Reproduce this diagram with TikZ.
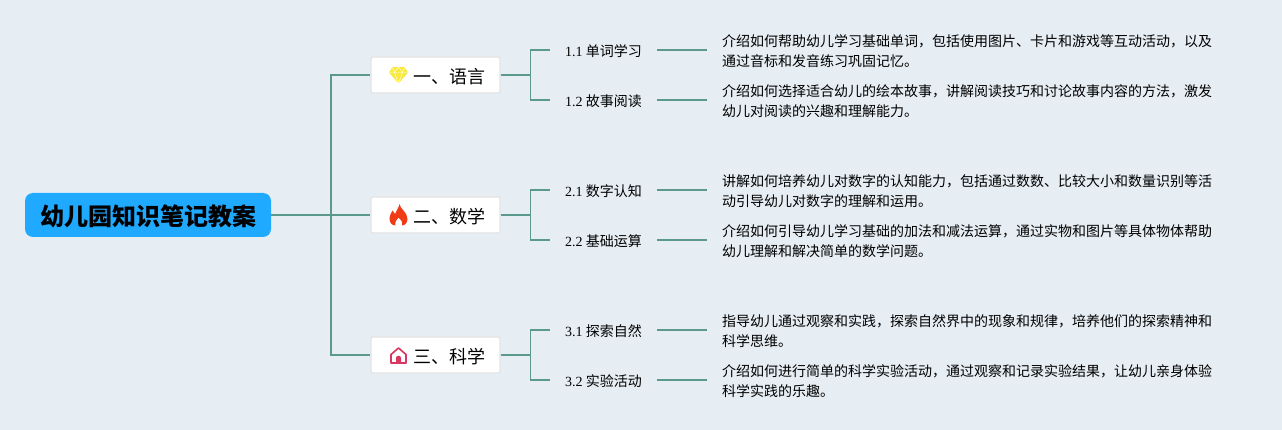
\documentclass[tikz,border=0pt]{standalone}
\usepackage{fontspec}
\setmainfont{Liberation Serif}
\newfontfamily\cjk{Noto Sans CJK SC}
\definecolor{bgcol}{HTML}{E6EDF3}
\definecolor{linkcol}{HTML}{5B9A8B}
\definecolor{rootcol}{HTML}{1FA9FF}
\definecolor{gemcol}{HTML}{F8E93C}
\definecolor{firecol}{HTML}{EF3B16}
\definecolor{homecol}{HTML}{DB3560}
\tikzset{
  link/.style={draw=linkcol, line width=1.6pt},
  rootbox/.style={fill=rootcol, rounded corners=8pt, minimum width=246pt, minimum height=44pt,
    inner sep=0pt, font=\cjk\bfseries\fontsize{24}{28}\selectfont},
  topicbox/.style={fill=white, draw=black!11, line width=1.2pt, rounded corners=2pt, minimum width=129pt,
    minimum height=36pt, inner sep=0pt, font=\cjk\fontsize{18}{22}\selectfont},
  subtopic/.style={anchor=west, inner sep=0pt, font=\fontsize{14}{20}\selectfont},
  note/.style={anchor=west, inner sep=0pt, align=left, font=\cjk\fontsize{14}{20}\selectfont},
}
\begin{document}
\begin{tikzpicture}[x=1pt, y=-1pt]
  \useasboundingbox (0,0) rectangle (1282,430);
  \fill[bgcol] (0,0) rectangle (1282,430);
  % centre
  \node[rootbox] (root) at (148,215) {\raisebox{-10.6pt}[0pt][0pt]{幼儿园知识笔记教案}};
  \coordinate (trunk) at (331,215);
  % topics
  \node[topicbox] (lang) at (435.5,75) {\hspace*{27pt}\raisebox{-8.3pt}[0pt][0pt]{一、语言}};
  \node[topicbox] (math) at (435.5,215) {\hspace*{27pt}\raisebox{-8.3pt}[0pt][0pt]{二、数学}};
  \node[topicbox] (sci) at (435.5,355) {\hspace*{27pt}\raisebox{-8.3pt}[0pt][0pt]{三、科学}};
  \draw[link] (root) -- (trunk);
  \draw[link] (trunk) |- (lang);
  \draw[link] (trunk) -- (math);
  \draw[link] (trunk) |- (sci);
  % icons
  \fill[gemcol] (392.5,67) -- (404.5,67) -- (408,72.5) -- (398.5,83.5) -- (389,72.5) -- cycle;
  \draw[white, line width=.4pt] (389,72.5) -- (408,72.5) (392.5,67) -- (394.5,72.5) -- (398.5,83.5) -- (402.5,72.5) -- (404.5,67) (394.5,72.5) -- (398.5,67) -- (402.5,72.5);
  \fill[firecol] (399.5,204) .. controls (400,209) and (407.5,212) .. (407.5,219)
    .. controls (407.5,223) and (404.5,225.5) .. (402,225.5) .. controls (403,222) and (401,219.5) .. (398.5,217.5)
    .. controls (396.5,219.5) and (394.5,222) .. (395.5,225.5) .. controls (392,225.5) and (389.5,222.5) .. (389.5,219)
    .. controls (389.5,215) and (391.5,213) .. (392.5,210.5) .. controls (393.5,212) and (394,213) .. (395,214)
    .. controls (396.5,211) and (398.5,208) .. (399.5,204) -- cycle;
  \draw[homecol, line width=1.6pt, line join=round] (391,363) -- (391,354.5) -- (398.5,348) -- (406,354.5) -- (406,363) -- cycle;
  \fill[homecol] (396,363) -- (396,358) .. controls (396,355) and (401,355) .. (401,358) -- (401,363) -- cycle;
  % sub topics and notes
  \foreach \idx/\top/\y/\sub/\txt in {
    a/lang/50/{{\rmfamily 1.1} 单词学习}/{介绍如何帮助幼儿学习基础单词，包括使用图片、卡片和游戏等互动活动，以及\\通过音标和发音练习巩固记忆。},
    b/lang/100/{{\rmfamily 1.2} 故事阅读}/{介绍如何选择适合幼儿的绘本故事，讲解阅读技巧和讨论故事内容的方法，激发\\幼儿对阅读的兴趣和理解能力。},
    c/math/190/{{\rmfamily 2.1} 数字认知}/{讲解如何培养幼儿对数字的认知能力，包括通过数数、比较大小和数量识别等活\\动引导幼儿对数字的理解和运用。},
    d/math/240/{{\rmfamily 2.2} 基础运算}/{介绍如何引导幼儿学习基础的加法和减法运算，通过实物和图片等具体物体帮助\\幼儿理解和解决简单的数学问题。},
    e/sci/330/{{\rmfamily 3.1} 探索自然}/{指导幼儿通过观察和实践，探索自然界中的现象和规律，培养他们的探索精神和\\科学思维。},
    f/sci/380/{{\rmfamily 3.2} 实验活动}/{介绍如何进行简单的科学实验活动，通过观察和记录实验结果，让幼儿亲身体验\\科学实践的乐趣。}}
  {
    \node[subtopic] (sub\idx) at (565,\y+1) {\cjk\sub};
    \node[note] (note\idx) at (722,\y+1) {\txt};
    \coordinate (in\idx) at (550,\y);
    \coordinate (out\idx) at (657,\y);
    \coordinate (end\idx) at (707,\y);
    \draw[link] (\top.east) -- +(30,0) |- (in\idx);
    \draw[link] (out\idx) -- (end\idx);
  }
\end{tikzpicture}
\end{document}
